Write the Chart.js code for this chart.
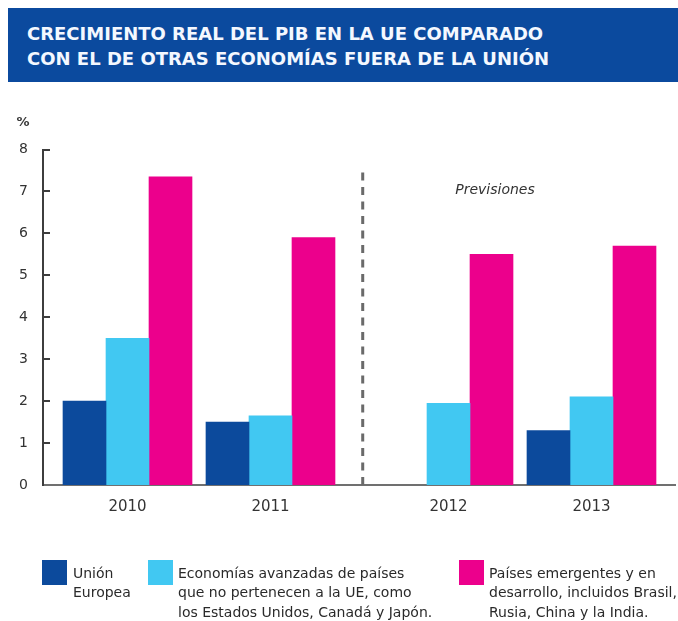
<!DOCTYPE html>
<html>
<head>
<meta charset="utf-8">
<script src="https://cdn.jsdelivr.net/npm/chart.js@4"></script>
<style>
  html, body { margin: 0; padding: 0; background: #ffffff; }
  body { width: 678px; height: 621px; position: relative; overflow: hidden; font-family: 'DejaVu Sans', sans-serif; }
  #title {
    position: absolute; left: 8px; top: 8px; width: 670px; height: 74px;
    background: #0b4a9e; color: #f4f8ff; box-sizing: border-box;
    padding: 13px 0 0 19px; font: bold 18px/25px 'DejaVu Sans', sans-serif;
    white-space: nowrap;
  }
  #wrap { position: absolute; left: 0; top: 100px; width: 678px; height: 430px; }
  #legend { position: absolute; left: 0; top: 0; width: 678px; height: 621px; pointer-events: none; }
  .sw { position: absolute; width: 25px; height: 25px; }
  .lt { position: absolute; font: 14px/19.5px 'DejaVu Sans', sans-serif; color: #2a2a2a; white-space: pre; }
</style>
</head>
<body>
<div id="title">CRECIMIENTO REAL DEL PIB EN LA UE COMPARADO<br>CON EL DE OTRAS ECONOMÍAS FUERA DE LA UNIÓN</div>
<div id="wrap"><canvas id="c"></canvas></div>
<div id="legend"></div>
<script>
// ---- data ----
const categories = ['2010', '2011', '2012', '2013'];
const seriesNames = [
  'Unión\nEuropea',
  'Economías avanzadas de países\nque no pertenecen a la UE, como\nlos Estados Unidos, Canadá y Japón.',
  'Países emergentes y en\ndesarrollo, incluidos Brasil,\nRusia, China y la India.'
];
const euValues = [2.0, 1.5, null, 1.3];
const advancedValues = [3.5, 1.65, 1.95, 2.1];
const emergingValues = [7.35, 5.9, 5.5, 5.7];
const yTickValues = [0, 1, 2, 3, 4, 5, 6, 7, 8];
const forecastLabel = 'Previsiones';
const unitLabel = '%';

// ---- layout / style (not data) ----
const colors = ['#0c4a9c', '#41c8f2', '#ec008c'];
const groupSlots = [0, 1, 2.245, 3.245];      // x-axis spacing of the four year groups
const dividerAt = 1.645;                       // forecast separator, in x-axis units
const dividerTop = 7.45;                       // in y units
const forecastTextAt = { x: 2.57, y: 7.03 };

const seriesValues = [euValues, advancedValues, emergingValues];
const datasets = seriesValues.map((vals, s) => ({
  label: seriesNames[s].replace(/\n/g, ' '),
  data: categories.map((c, i) => ({ x: groupSlots[i], y: vals[i] })),
  backgroundColor: colors[s],
  borderWidth: 0,
  barThickness: 43
}));

const decorPlugin = {
  id: 'decor',
  afterDraw(chart) {
    const ctx = chart.ctx;
    const xs = chart.scales.x, ys = chart.scales.y;
    ctx.save();
    // inward tick marks on y axis
    ctx.strokeStyle = '#3d3d3d';
    ctx.lineWidth = 2;
    yTickValues.forEach(v => {
      if (v === 0) return;
      const y = Math.round(ys.getPixelForValue(v));
      ctx.beginPath();
      ctx.moveTo(xs.left, y);
      ctx.lineTo(xs.left + 7, y);
      ctx.stroke();
    });
    // dashed forecast separator
    const dx = xs.getPixelForValue(dividerAt);
    ctx.strokeStyle = '#6a6a6a';
    ctx.lineWidth = 3;
    ctx.setLineDash([8, 6.5]);
    ctx.beginPath();
    ctx.moveTo(dx, ys.getPixelForValue(dividerTop));
    ctx.lineTo(dx, ys.getPixelForValue(0));
    ctx.stroke();
    ctx.setLineDash([]);
    // forecast label
    ctx.fillStyle = '#333333';
    ctx.font = 'italic 14px "DejaVu Sans", sans-serif';
    ctx.textAlign = 'center';
    ctx.textBaseline = 'middle';
    ctx.fillText(forecastLabel, xs.getPixelForValue(forecastTextAt.x), ys.getPixelForValue(forecastTextAt.y));
    // unit label
    ctx.font = 'bold 13px "DejaVu Sans", sans-serif';
    ctx.fillStyle = '#3a3a3a';
    ctx.fillText(unitLabel, 23, ys.top - 26.5);
    ctx.restore();
  }
};

const chart = new Chart(document.getElementById('c'), {
  type: 'bar',
  data: { datasets },
  options: {
    responsive: true,
    maintainAspectRatio: false,
    animation: false,
    events: [],
    layout: { padding: { top: 49.5, right: 3, left: 0, bottom: 0 } },
    plugins: { legend: { display: false }, tooltip: { enabled: false } },
    scales: {
      x: {
        type: 'linear',
        min: -0.591,
        max: 3.829,
        offset: false,
        bounds: 'data',
        grid: { display: false, drawTicks: false, offset: false },
        border: { display: true, color: '#707070', width: 2 },
        afterBuildTicks(scale) { scale.ticks = groupSlots.map(v => ({ value: v })); },
        afterFit(scale) { scale.height = 45; },
        ticks: {
          autoSkip: false,
          maxRotation: 0,
          padding: 13,
          color: '#333333',
          font: { family: 'DejaVu Sans', size: 15 },
          callback: (v, i) => categories[i]
        }
      },
      y: {
        min: 0,
        max: 8,
        afterBuildTicks(scale) { scale.ticks = yTickValues.map(v => ({ value: v })); },
        afterFit(scale) { scale.width = 43; },
        grid: { display: false, drawTicks: false },
        border: { display: true, color: '#3d3d3d', width: 2 },
        ticks: {
          padding: 15,
          color: '#333333',
          font: { family: 'DejaVu Sans', size: 14 },
          callback: v => String(v)
        }
      }
    }
  },
  plugins: [decorPlugin]
});

// HTML legend built from dataset labels
const legendPos = [
  { sw: [42, 560], tx: [73, 563.5] },
  { sw: [148, 560], tx: [178, 563.5] },
  { sw: [459, 560], tx: [489, 563.5] }
];
const lg = document.getElementById('legend');
seriesNames.forEach((name, i) => {
  const sw = document.createElement('div');
  sw.className = 'sw';
  sw.style.left = legendPos[i].sw[0] + 'px';
  sw.style.top = legendPos[i].sw[1] + 'px';
  sw.style.background = colors[i];
  lg.appendChild(sw);
  const t = document.createElement('div');
  t.className = 'lt';
  t.style.left = legendPos[i].tx[0] + 'px';
  t.style.top = legendPos[i].tx[1] + 'px';
  t.textContent = name;
  lg.appendChild(t);
});
</script>
</body>
</html>
